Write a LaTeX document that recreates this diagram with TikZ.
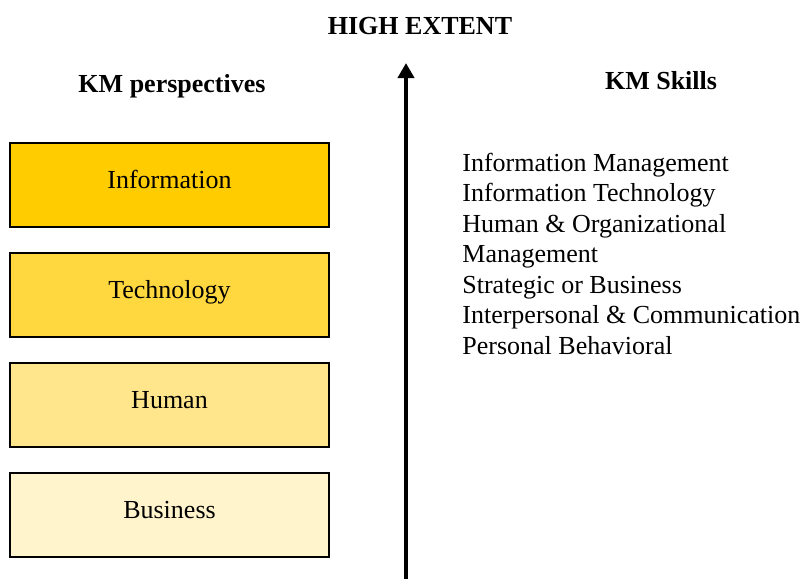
\documentclass[tikz,border=0pt]{standalone}
\usepackage{fontspec}
\setmainfont{Liberation Serif}
\usetikzlibrary{arrows.meta}

\definecolor{infoyellow}{RGB}{255,204,0}
\definecolor{techyellow}{RGB}{255,216,64}
\definecolor{humanyellow}{RGB}{255,230,140}
\definecolor{busyellow}{RGB}{255,244,204}

\tikzset{
    heading/.style={font=\fontsize{13}{15.25}\selectfont\bfseries, inner sep=0pt, anchor=base},
    perspbox/.style={draw=black, line width=1pt, minimum width=159.5pt, minimum height=42pt,
        text height=9pt, text depth=6pt, inner sep=0pt, font=\fontsize{13}{15.25}\selectfont},
    skillitem/.style={font=\fontsize{13}{15.25}\selectfont, inner sep=0pt, anchor=base west}
}

\begin{document}
\begin{tikzpicture}[x=0.5pt, y=-0.5pt]
        \useasboundingbox (0,0) rectangle (808,578);
        % headings
        \node[heading] (high) at (420, 34) {HIGH EXTENT};
        \node[heading] (persp) at (172, 92) {KM perspectives};
        \node[heading] (skills) at (661, 89) {KM Skills};
        % perspectives
        \node[perspbox, fill=infoyellow] (info) at (169.5, 185) {Information};
        \node[perspbox, fill=techyellow] (tech) at (169.5, 295) {Technology};
        \node[perspbox, fill=humanyellow] (human) at (169.5, 405) {Human};
        \node[perspbox, fill=busyellow] (business) at (169.5, 515) {Business};
        % skills
        \foreach \skill [count=\i] in {Information Management, Information Technology,
            Human \& Organizational, Management, Strategic or Business,
            Interpersonal \& Communication, Personal Behavioral}
            \node[skillitem] (skill\i) at (462, {171+30.5*(\i-1)}) {\skill};
        % axis
        \coordinate (low) at (406, 582);
        \coordinate (top) at (406, 63);
        \draw[black, line width=2pt, -{Triangle[length=7.5pt, width=8pt]}] (low) -- (top);
    \end{tikzpicture}
\end{document}
